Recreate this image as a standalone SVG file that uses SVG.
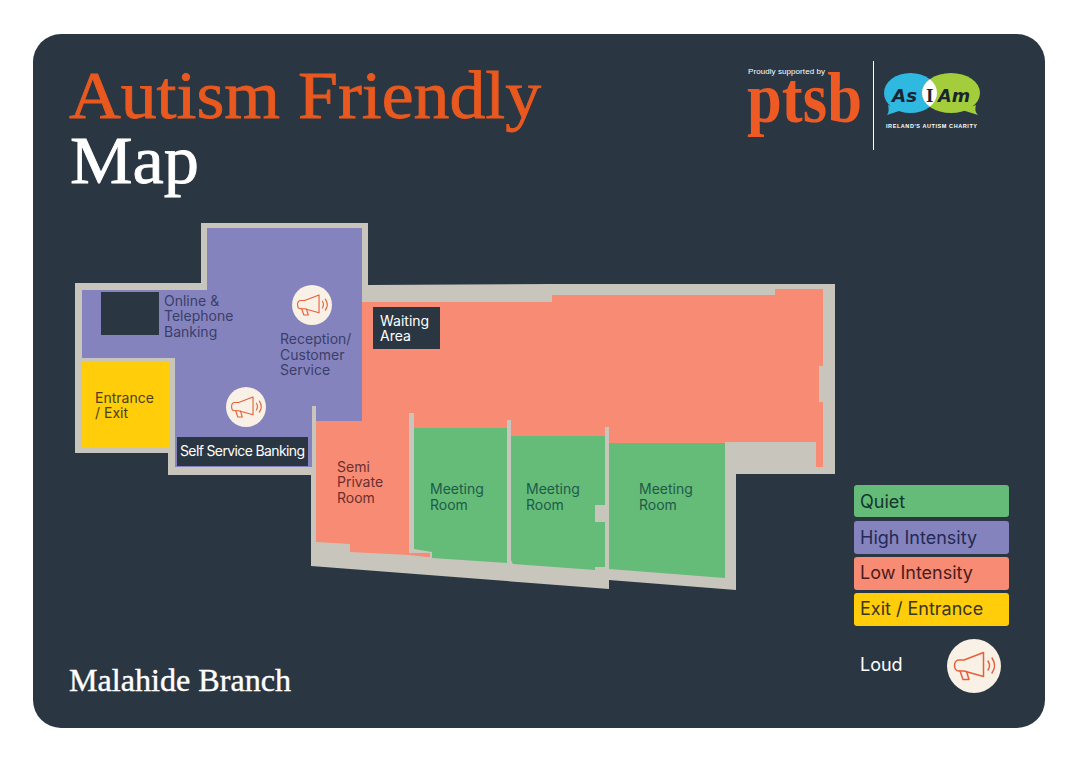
<svg xmlns="http://www.w3.org/2000/svg" width="1077" height="763" viewBox="0 0 1077 763">
<style>
.wall{fill:#c8c6bc}
.sal{fill:#f78b74}
.grn{fill:#64bc78}
.pur{fill:#8583bd}
.yel{fill:#ffcd0a}
.dark{fill:#2a3743}
.ttl{font-family:"Liberation Serif",serif}
.lb{font-family:Inter,"Liberation Sans",sans-serif;font-size:14px}
.lg{font-family:Inter,"Liberation Sans",sans-serif;font-size:18px}
.ic{fill:none;stroke:#e5603a;stroke-width:1.5;stroke-linejoin:round;stroke-linecap:round}
.logo{font-family:"DejaVu Sans",sans-serif;font-style:italic;font-weight:700;font-size:17px;fill:#1a2530}
</style>
<defs>
<g id="horn">
<circle r="27" fill="#f9f0e6"/>
<path class="ic" d="M9.500-13.500V10.500L-10 5H-15C-21 5-21-6-15-6H-10Z"/>
<path class="ic" d="M-14 5L-11 13.500H-5L-7.500 5.500"/>
<path class="ic" d="M14-5C16-2 16 1 14 4M18-8C21.500-3 21.500 2 18 7"/>
</g>
<clipPath id="lens"><ellipse cx="951" cy="93" rx="29" ry="20"/></clipPath>
</defs>
<rect width="1077" height="763" fill="#fff"/>
<rect class="dark" x="33" y="34" width="1012" height="694" rx="28"/>
<g id="title">
<text class="ttl" x="69" y="118" font-size="68" fill="#e9591f" stroke="#e9591f" stroke-width=".8" textLength="472" lengthAdjust="spacingAndGlyphs">Autism Friendly</text>
<text class="ttl" x="70" y="183" font-size="68" fill="#fff" stroke="#fff" stroke-width=".8" textLength="129" lengthAdjust="spacingAndGlyphs">Map</text>
<text class="ttl" x="69" y="691" font-size="32" fill="#fff" stroke="#fff" stroke-width=".4" textLength="222" lengthAdjust="spacingAndGlyphs">Malahide Branch</text>
</g>
<g id="logos">
<text x="748" y="74" font-family="Liberation Sans,sans-serif" font-size="8" fill="#fff" textLength="77">Proudly supported by</text>
<text x="747" y="122" font-family="Liberation Serif,serif" font-weight="700" font-size="72" fill="#ee5a24" textLength="115" lengthAdjust="spacingAndGlyphs">ptsb</text>
<rect x="873" y="61" width="1" height="89" fill="#fff"/>
<path d="M887 115C889 112 889 109 888 105L902 110Z" fill="#2fb8e0"/>
<path d="M978 115C975 112 975 109 976 105L962 110Z" fill="#a3cd3a"/>
<ellipse cx="910.500" cy="93" rx="26.500" ry="20" fill="#2fb8e0"/>
<ellipse cx="951" cy="93" rx="29" ry="20" fill="#a3cd3a"/>
<ellipse cx="910.500" cy="93" rx="26.500" ry="20" fill="#fff" clip-path="url(#lens)"/>
<text class="logo" x="892" y="102" textLength="25" lengthAdjust="spacingAndGlyphs">As</text>
<text x="926" y="102" font-family="Liberation Serif,serif" font-weight="700" font-size="19" fill="#1a2530">I</text>
<text class="logo" x="938" y="102" textLength="32" lengthAdjust="spacingAndGlyphs">Am</text>
<text x="886" y="128" font-family="Liberation Sans,sans-serif" font-weight="700" font-size="5.500" fill="#fff" textLength="91">IRELAND'S AUTISM CHARITY</text>
</g>
<g id="floorplan">
<path id="walls" class="wall" d="M75 283H201V223H368V285L552 284H835V474H736V590L609 580V589L311 566V475H168V453H75Z"/>
<path id="zone-high" class="pur" d="M82 290H207V228H362V421H316V467H175V358H82Z"/>
<rect class="dark" x="101" y="292" width="58" height="43"/>
<path id="zone-low" class="sal" d="M362 302H552V295H775V289H823V366H819V402H823V467H816V442H725V443H609V436H511V428H414V421H362Z"/>
<path id="wall-stub" class="wall" d="M312 406H316V476H312ZM409 413H414V430H409ZM507 420H511V438H507ZM605 427H609V445H605Z"/>
</g>
<g id="room-entrance">
<rect class="yel" x="82" y="362" width="88" height="85"/>
<text class="lb" fill="#4a4020" x="95" y="403">Entrance</text>
<text class="lb" fill="#4a4020" x="95" y="418">/ Exit</text>
</g>
<g id="room-online">
<text class="lb" fill="#3a3f6a" x="164" y="306">Online &amp;</text>
<text class="lb" fill="#3a3f6a" x="164" y="321">Telephone</text>
<text class="lb" fill="#3a3f6a" x="164" y="337">Banking</text>
</g>
<g id="room-reception">
<use href="#horn" transform="translate(312 305) scale(.74)"/>
<text class="lb" fill="#3a3f6a" x="280" y="344">Reception/</text>
<text class="lb" fill="#3a3f6a" x="280" y="360">Customer</text>
<text class="lb" fill="#3a3f6a" x="280" y="375">Service</text>
</g>
<g id="room-self-service">
<use href="#horn" transform="translate(246 407) scale(.74)"/>
<rect class="dark" x="177" y="437" width="131" height="29"/>
<text class="lb" fill="#fff" x="180" y="456" textLength="125">Self Service Banking</text>
</g>
<g id="room-waiting">
<rect class="dark" x="373" y="307" width="67" height="42"/>
<text class="lb" fill="#fff" x="380" y="326">Waiting</text>
<text class="lb" fill="#fff" x="380" y="341">Area</text>
</g>
<g id="room-semi">
<path class="sal" d="M316 421H409V553H430V557H427L409 555L350 552V544L316 542Z"/>
<text class="lb" fill="#6b2f2f" x="337" y="472">Semi</text>
<text class="lb" fill="#6b2f2f" x="337" y="487">Private</text>
<text class="lb" fill="#6b2f2f" x="337" y="503">Room</text>
</g>
<g id="room-meeting-1">
<path class="grn" d="M414 428H507V563L432 558V552L414 549Z"/>
<text class="lb" fill="#1f5a48" x="430" y="494">Meeting</text>
<text class="lb" fill="#1f5a48" x="430" y="510">Room</text>
</g>
<g id="room-meeting-2">
<path class="grn" d="M511 436H605V505H595V522H605V567H595V570L513 564L511 560Z"/>
<text class="lb" fill="#1f5a48" x="526" y="494">Meeting</text>
<text class="lb" fill="#1f5a48" x="526" y="510">Room</text>
</g>
<g id="room-meeting-3">
<path class="grn" d="M609 443H725V578L609 569Z"/>
<text class="lb" fill="#1f5a48" x="639" y="494">Meeting</text>
<text class="lb" fill="#1f5a48" x="639" y="510">Room</text>
</g>
<g id="legend">
<rect class="grn" x="854" y="485" width="155" height="32" rx="3"/>
<text class="lg" fill="#15352c" x="860" y="508">Quiet</text>
<rect class="pur" x="854" y="521" width="155" height="33" rx="3"/>
<text class="lg" fill="#232a55" x="860" y="544">High Intensity</text>
<rect class="sal" x="854" y="557" width="155" height="33" rx="3"/>
<text class="lg" fill="#4a1c1c" x="860" y="579">Low Intensity</text>
<rect class="yel" x="854" y="593" width="155" height="33" rx="3"/>
<text class="lg" fill="#3a3520" x="860" y="615">Exit / Entrance</text>
<text class="lg" fill="#fff" x="860" y="671">Loud</text>
<use href="#horn" transform="translate(974 666)"/>
</g>
</svg>
